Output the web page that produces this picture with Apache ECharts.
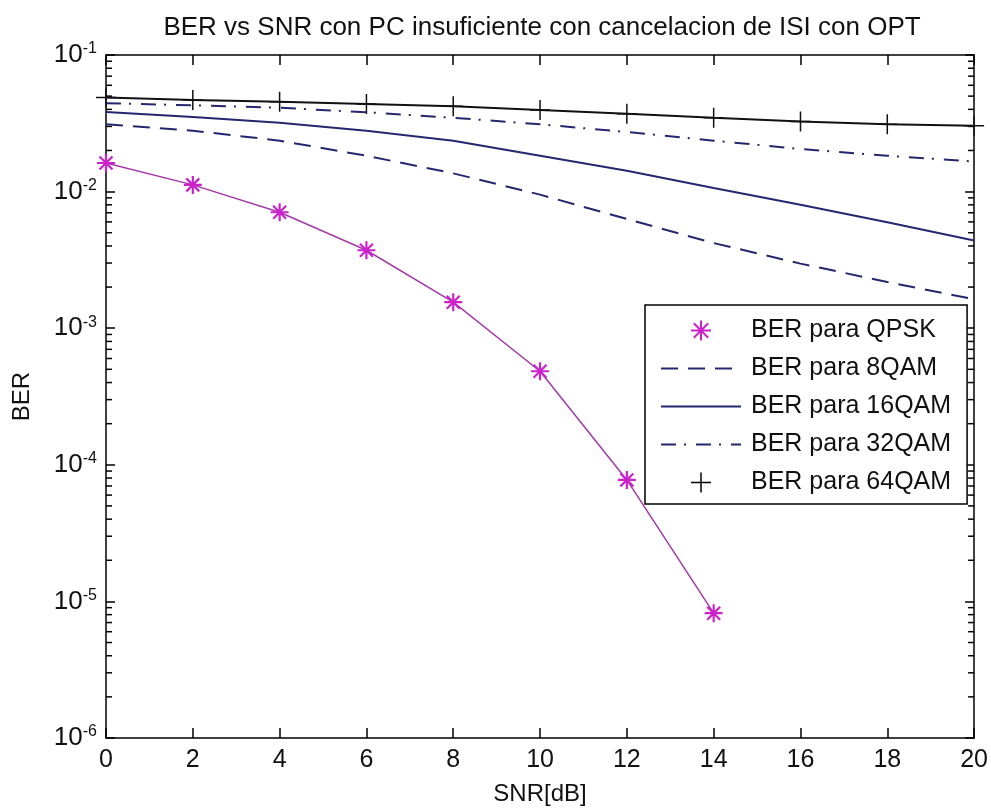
<!DOCTYPE html>
<html>
<head>
<meta charset="utf-8">
<script src="https://cdn.jsdelivr.net/npm/echarts@6/dist/echarts.min.js"></script>
<style>
html,body{margin:0;padding:0;background:#fff;}
#chart{width:991px;height:811px;}
</style>
</head>
<body>
<div id="chart"></div>
<script>
// ---- data ----
const snrQPSK = [0, 2, 4, 6, 8, 10, 12, 14];
const berQPSK = [0.0162, 0.0112, 0.00706, 0.00372, 0.00155, 0.000484, 0.0000775, 0.0000082];
const snr = [0, 2, 4, 6, 8, 10, 12, 14, 16, 18, 20];
const ber8QAM  = [0.0311, 0.0279, 0.0236, 0.0183, 0.0136, 0.0095, 0.0063, 0.0042, 0.00297, 0.00218, 0.00163];
const ber16QAM = [0.0383, 0.0352, 0.0319, 0.0279, 0.0236, 0.0183, 0.0142, 0.01064, 0.0080, 0.00596, 0.00438];
const ber32QAM = [0.0444, 0.0428, 0.0411, 0.0381, 0.0347, 0.0311, 0.0273, 0.0236, 0.0205, 0.0183, 0.0166];
const ber64QAM = [0.0488, 0.0469, 0.0455, 0.0437, 0.0421, 0.0396, 0.0372, 0.0347, 0.0326, 0.0311, 0.0304];
const seriesNames = ['BER para QPSK', 'BER para 8QAM', 'BER para 16QAM', 'BER para 32QAM', 'BER para 64QAM'];
const xTicks = [0, 2, 4, 6, 8, 10, 12, 14, 16, 18, 20];
const yMin = 1e-6, yMax = 1e-1;

// minor log ticks (2..9 x each decade)
const minorTicks = [];
for (let e = -6; e < -1; e++) {
  for (let m = 2; m <= 9; m++) minorTicks.push(m * Math.pow(10, e));
}

const pair = (xs, ys) => ys.map((v, i) => [xs[i], v]);
const FONT = '"Liberation Sans", Arial, sans-serif';
const NAVY = '#26266e';
const MAG = '#cc22cc';
const STAR = 'path://M0,-10L0,10M-10,0L10,0M-7.2,-7.2L7.2,7.2M-7.2,7.2L7.2,-7.2';
const PLUS = 'path://M0,-10L0,10M-10,0L10,0';
const HIDE = {color: 'transparent', borderColor: 'transparent', borderWidth: 0};

const chart = echarts.init(document.getElementById('chart'), null, {renderer: 'canvas'});

const axisLine = {show: true, onZero: false, lineStyle: {color: '#000', width: 1.5}};
const option = {
  backgroundColor: '#fff',
  animation: false,
  title: {
    text: 'BER vs SNR con PC insuficiente con cancelacion de ISI con OPT',
    left: 537, top: 10, textAlign: 'center',
    textStyle: {fontFamily: FONT, fontSize: 26, fontWeight: 'normal', color: '#111'}
  },
  grid: {left: 106, right: 16, top: 55, bottom: 71, show: false},
  legend: {
    orient: 'vertical',
    left: 645, top: 305,
    padding: [13, 16, 9, 15],
    itemWidth: 80, itemHeight: 20, itemGap: 13,
    backgroundColor: '#fff',
    borderColor: '#000', borderWidth: 1.5, borderRadius: 0,
    selectedMode: false,
    textStyle: {fontFamily: FONT, fontSize: 25, color: '#111', lineHeight: 20, height: 20, padding: [0, 0, 0, 5]},
    data: [
      {name: seriesNames[0], icon: STAR, itemStyle: {color: 'transparent', borderColor: MAG, borderWidth: 2}},
      {name: seriesNames[1], itemStyle: HIDE},
      {name: seriesNames[2], itemStyle: HIDE},
      {name: seriesNames[3], itemStyle: HIDE},
      {name: seriesNames[4], icon: PLUS, itemStyle: {color: 'transparent', borderColor: '#000', borderWidth: 1.5}}
    ]
  },
  xAxis: [{
    type: 'value', min: 0, max: 20, interval: 2, position: 'bottom',
    name: 'SNR[dB]', nameLocation: 'middle', nameGap: 44,
    nameTextStyle: {fontFamily: FONT, fontSize: 24, color: '#111'},
    axisLine: axisLine,
    axisTick: {show: true, inside: true, length: 10, lineStyle: {color: '#000', width: 1.5}},
    axisLabel: {fontFamily: FONT, fontSize: 25, color: '#111', margin: 10,
      formatter: v => xTicks.includes(v) ? String(v) : ''},
    splitLine: {show: false}
  }, {
    type: 'value', min: 0, max: 20, interval: 2, position: 'top',
    axisLine: axisLine,
    axisTick: {show: true, inside: true, length: 10, lineStyle: {color: '#000', width: 1.5}},
    axisLabel: {show: false}, splitLine: {show: false}
  }],
  yAxis: [{
    type: 'log', logBase: 10, min: yMin, max: yMax, interval: 1, position: 'left',
    name: 'BER', nameLocation: 'middle', nameGap: 72, nameRotate: 90,
    nameTextStyle: {fontFamily: FONT, fontSize: 24, color: '#111'},
    axisLine: axisLine,
    axisTick: {show: true, inside: true, length: 9, lineStyle: {color: '#000', width: 1.5}},
    axisLabel: {
      margin: 9, color: '#111',
      formatter: v => '{b|10}{e|' + Math.round(Math.log10(v)) + '}',
      rich: {
        b: {fontFamily: FONT, fontSize: 26, color: '#111', lineHeight: 28},
        e: {fontFamily: FONT, fontSize: 16, color: '#111', verticalAlign: 'top', lineHeight: 28, padding: [0, 0, 14, 0]}
      }
    },
    splitLine: {show: false}
  }, {
    type: 'log', logBase: 10, min: yMin, max: yMax, interval: 1, position: 'right',
    axisLine: axisLine,
    axisTick: {show: true, inside: true, length: 9, lineStyle: {color: '#000', width: 1.5}},
    axisLabel: {show: false}, splitLine: {show: false}
  }],
  series: [
    {
      name: seriesNames[0], type: 'line', data: pair(snrQPSK, berQPSK),
      lineStyle: {color: '#a33aa8', width: 1.5},
      symbol: STAR, symbolSize: 18, showAllSymbol: true,
      itemStyle: {color: 'transparent', borderColor: MAG, borderWidth: 2.2},
      z: 5
    },
    {
      name: seriesNames[1], type: 'line', data: pair(snr, ber8QAM), symbol: 'none',
      lineStyle: {color: NAVY, width: 2, type: [17, 10]}, itemStyle: {color: NAVY}
    },
    {
      name: seriesNames[2], type: 'line', data: pair(snr, ber16QAM), symbol: 'none',
      lineStyle: {color: NAVY, width: 2}, itemStyle: {color: NAVY}
    },
    {
      name: seriesNames[3], type: 'line', data: pair(snr, ber32QAM), symbol: 'none',
      lineStyle: {color: NAVY, width: 2, type: [15, 8, 2, 10]}, itemStyle: {color: NAVY}
    },
    {
      name: seriesNames[4], type: 'line', data: pair(snr, ber64QAM),
      lineStyle: {color: '#111', width: 2},
      symbol: PLUS, symbolSize: 20, showAllSymbol: true,
      itemStyle: {color: 'transparent', borderColor: '#111', borderWidth: 1.5}
    },
    {
      type: 'custom', silent: true, z: 3,
      data: minorTicks.map(v => [0, v]),
      renderItem: function (params, api) {
        const v = api.value(1);
        const pl = api.coord([0, v]);
        const pr = api.coord([20, v]);
        return {
          type: 'group',
          children: [
            {type: 'line', shape: {x1: pl[0], y1: pl[1], x2: pl[0] + 6, y2: pl[1]}, style: {stroke: '#000', lineWidth: 1.5}},
            {type: 'line', shape: {x1: pr[0], y1: pr[1], x2: pr[0] - 6, y2: pr[1]}, style: {stroke: '#000', lineWidth: 1.5}}
          ]
        };
      }
    }
  ]
};
chart.setOption(option);
</script>
</body>
</html>
